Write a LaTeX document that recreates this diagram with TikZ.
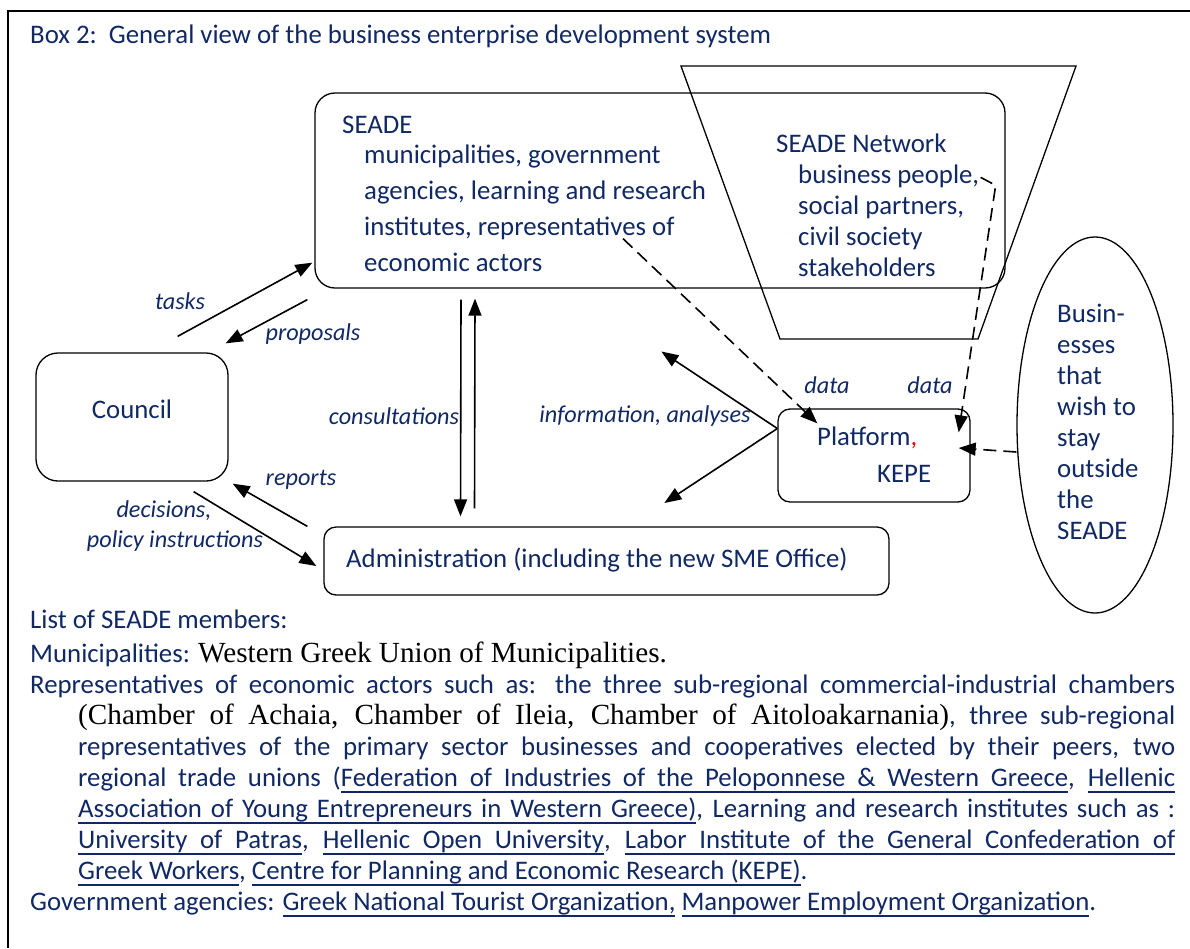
\documentclass[tikz,border=0pt]{standalone}
\usepackage{fontspec}
\setmainfont{Carlito}
\newfontfamily\timesfont{Liberation Serif}
\usetikzlibrary{shapes.geometric,calc,arrows.meta}
\definecolor{boxblue}{RGB}{16,40,100}
% underlining that keeps stretchable spaces
\newsavebox\ulbox
\newcommand\ulword[1]{\sbox\ulbox{#1}\rlap{\vrule height -4.5pt depth 6.5pt width \wd\ulbox}\usebox\ulbox}
\newcommand\ulspace{\leaders\vrule height -4.5pt depth 6.5pt\hskip\fontdimen2\font plus\fontdimen3\font minus\fontdimen4\font\relax}
\def\ulsplit#1 #2\ulend{\ulword{#1}\if\relax\detokenize{#2}\relax\else\ulspace\ulsplit#2\ulend\fi}
\newcommand\ul[1]{\ulsplit#1 \ulend}
\newcommand\serifblack[1]{{\timesfont\fontsize{29.2}{31}\selectfont\color{black}#1}}
\tikzset{
  frame/.style={line width=1.6pt},
  rbox/.style={draw, line width=1.3pt, rounded corners=#1, inner sep=0pt},
  rbox/.default=20pt,
  txt/.style={text=boxblue, inner sep=0pt, font=\fontsize{26.8}{31}\selectfont},
  lbl/.style={txt, anchor=base, font=\fontsize{24.2}{31}\selectfont\itshape},
  arr/.style={-{Triangle[length=17pt,width=13pt]}, line width=1.6pt},
  darr/.style={arr, dash pattern=on 13pt off 7pt}
}
\begin{document}
\begin{tikzpicture}[x=1pt,y=-1pt]
  \useasboundingbox (0,0) rectangle (1190,948);
  \draw[frame] (1190,11) -- (8,11) -- (8,948);
  \node[txt, anchor=base west] (title) at (30,43) {Box 2:\ \ General view of the business enterprise development system};

  % boxes
  \draw[line width=1.3pt] (681,66) -- (1076,66) -- (978,339) -- (780,339) -- cycle;
  \node[rbox=20pt, minimum width=690, minimum height=195] (seade) at (660,190.5) {};
  \node[txt, anchor=base west] (seadehead) at (342,133) {SEADE};
  \node[txt, anchor=base west, align=left, font=\fontsize{26.8}{35.7}\selectfont] (seadelist) at (364,271)
    {municipalities, government\\agencies, learning and research\\institutes, representatives of\\economic actors};
  \node[txt, anchor=base west] (nethead) at (776,152) {SEADE Network};
  \node[txt, anchor=base west, align=left] (netlist) at (798,276)
    {business people,\\social partners,\\civil society\\stakeholders};
  \node[draw, ellipse, line width=1.3pt, minimum width=156, minimum height=376, inner sep=0pt] (outside) at (1095,425) {};
  \node[txt, anchor=base west, align=left] (outsidetxt) at (1057,539)
    {Busin-\\esses\\that\\wish to\\stay\\outside\\the\\SEADE};
  \node[rbox=22pt, txt, text depth=16pt, minimum width=192, minimum height=128] (council) at (132,417) {Council};
  \node[rbox=12pt, minimum width=192, minimum height=93] (platform) at (874,455.5) {};
  \node[txt, anchor=base west] (platformtxt) at (817,445) {Platform\textcolor{red}{,}};
  \node[txt, anchor=base west] (kepe) at (877,482) {KEPE};
  \node[rbox=12pt, minimum width=565, minimum height=68] (admin) at (606.5,561) {};
  \node[txt, anchor=base west] (admintxt) at (346,567) {Administration (including the new SME Office)};

  % arrows
  \draw[arr] ($(council.north east)+(-51,-16)$) -- ($(seade.south west)+(-2,-26)$);
  \draw[arr] ($(seade.south west)+(-7,11)$) -- ($(council.north east)+(-3,-9)$);
  \draw[arr] ($(admin.north west)+(-16,0)$) -- ($(council.south east)+(4,2)$);
  \draw[arr] ($(council.south east)+(-35,10)$) -- ($(admin.west)+(-7,5)$);
  \draw[arr] ($(seade.south)+(-199,11)$) -- ($(admin.north)+(-146,-10)$);
  \draw[arr] ($(admin.north)+(-132,-18)$) -- ($(seade.south)+(-185,10)$);
  \draw[arr] ($(platform.west)+(0,-27)$) -- ($(platform.west)+(-116,-104)$);
  \draw[arr] ($(platform.west)+(0,-27)$) -- ($(platform.west)+(-113,47.5)$);
  \draw[darr] ($(seade.south)+(-37,-50)$) -- ($(platform.north west)+(40,15)$);
  \draw[darr] ($(seade.north east)+(-25,85)$) -- ($(seade.north east)+(-10,93)$) -- ($(platform.north east)+(-12,24)$);
  \draw[darr] ($(outside.west)+(0,27)$) -- ($(platform.east)+(-12,-7.5)$);

  % arrow labels
  \node[lbl] (tasks) at (180,309) {tasks};
  \node[lbl] (proposals) at (313,340) {proposals};
  \node[lbl] (consult) at (394,424) {consultations};
  \node[lbl] (info) at (645,422) {information, analyses};
  \node[lbl] (dataA) at (827,393) {data};
  \node[lbl] (dataB) at (930,393) {data};
  \node[lbl] (reports) at (301,485) {reports};
  \node[lbl] (decisions) at (164,517) {decisions,};
  \node[lbl] (policy) at (175,547) {policy instructions};

  % member list
  \node[txt, anchor=base west] (listhead) at (30,628) {List of SEADE members:};
  \node[txt, anchor=base west, text width=1145, align=justify] (members) at (30,662)
    {\parindent=0pt Municipalities: \serifblack{Western Greek Union of Municipalities.}\par
     \hangindent=48pt\hangafter=1
     Representatives of economic actors such as: the three sub-regional commercial-industrial chambers\linebreak
     \serifblack{(Chamber of Achaia, Chamber of Ileia, Chamber of Aitoloakarnania)}, three sub-regional\linebreak
     representatives of the primary sector businesses and cooperatives elected by their peers, two\linebreak
     regional trade unions (\ul{Federation of Industries of the Peloponnese \& Western Greece}, \ul{Hellenic}\linebreak
     \ul{Association of Young Entrepreneurs in Western Greece)}, Learning and research institutes such as :\linebreak
     \ul{University of Patras}, \ul{Hellenic Open University}, \ul{Labor Institute of the General Confederation of}\linebreak
     \ul{Greek Workers}, \ul{Centre for Planning and Economic Research (KEPE)}.\par
     Government agencies: \ul{Greek National Tourist Organization,} \ul{Manpower Employment Organization}.};
\end{tikzpicture}
\end{document}
